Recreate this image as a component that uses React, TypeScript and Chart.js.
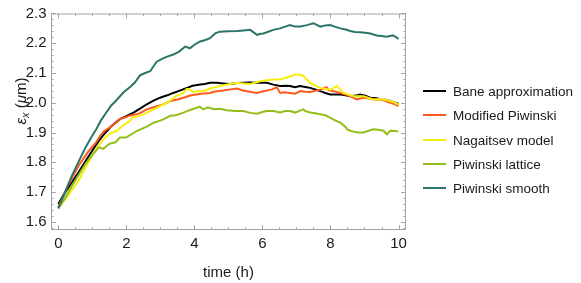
import React, { useEffect, useRef } from "react";
import { Chart, registerables } from "chart.js";

Chart.register(...registerables);

// ---- data (time in h, emittance in µm) ----
const seriesNames = [
  "Bane approximation",
  "Modified Piwinski",
  "Nagaitsev model",
  "Piwinski lattice",
  "Piwinski smooth",
];
const seriesColors = ["#000000", "#ff5a1e", "#f7ee10", "#95bd1a", "#2b7568"];

const xTicks = [0, 2, 4, 6, 8, 10];
const yTicks = [1.6, 1.7, 1.8, 1.9, 2.0, 2.1, 2.2, 2.3];

const bane = [
  [0, 1.66], [0.15, 1.69], [0.31, 1.717], [0.6, 1.767], [0.9, 1.822], [1.06, 1.85], [1.19, 1.872],
  [1.35, 1.895], [1.55, 1.92], [1.81, 1.945], [2.0, 1.955], [2.21, 1.967], [2.4, 1.98], [2.6, 1.995],
  [2.8, 2.007], [2.99, 2.017], [3.2, 2.025], [3.38, 2.033], [3.55, 2.04], [3.78, 2.05], [3.95, 2.057],
  [4.17, 2.061], [4.3, 2.063], [4.46, 2.067], [4.66, 2.067], [4.85, 2.065], [5.05, 2.063], [5.25, 2.066],
  [5.44, 2.067], [5.64, 2.068], [5.84, 2.067], [6.0, 2.068], [6.13, 2.067], [6.32, 2.061], [6.52, 2.056],
  [6.7, 2.057], [6.81, 2.056], [6.96, 2.052], [7.1, 2.056], [7.26, 2.053], [7.4, 2.05], [7.55, 2.045],
  [7.7, 2.039], [7.85, 2.033], [7.99, 2.028], [8.19, 2.028], [8.29, 2.028], [8.45, 2.025], [8.58, 2.022],
  [8.75, 2.024], [8.87, 2.028], [9.02, 2.024], [9.17, 2.017], [9.36, 2.015], [9.46, 2.011], [9.6, 2.01],
  [9.76, 2.006], [9.9, 2.0], [10, 1.997],
];

const modified = [
  [0, 1.65], [0.31, 1.728], [0.6, 1.789], [0.9, 1.839], [1.1, 1.865], [1.23, 1.889], [1.35, 1.905],
  [1.52, 1.917], [1.72, 1.935], [1.81, 1.945], [2.0, 1.952], [2.07, 1.956], [2.3, 1.961], [2.4, 1.965],
  [2.6, 1.978], [2.8, 1.985], [3.1, 1.995], [3.29, 2.006], [3.5, 2.011], [3.68, 2.017], [3.9, 2.025],
  [4.07, 2.028], [4.2, 2.03], [4.46, 2.033], [4.6, 2.038], [4.85, 2.041], [5.05, 2.045], [5.25, 2.048],
  [5.4, 2.042], [5.54, 2.039], [5.7, 2.035], [5.84, 2.033], [6.0, 2.038], [6.13, 2.041], [6.28, 2.045],
  [6.42, 2.052], [6.52, 2.033], [6.65, 2.035], [6.81, 2.033], [6.96, 2.03], [7.11, 2.039], [7.26, 2.037],
  [7.4, 2.036], [7.55, 2.04], [7.7, 2.044], [7.89, 2.052], [7.95, 2.042], [8.09, 2.039], [8.29, 2.033],
  [8.45, 2.028], [8.58, 2.022], [8.77, 2.011], [8.97, 2.017], [9.1, 2.015], [9.26, 2.011], [9.4, 2.012],
  [9.56, 2.008], [9.76, 2.0], [9.9, 1.995], [10, 1.989],
];

const nagaitsev = [
  [0, 1.645], [0.3, 1.69], [0.6, 1.739], [0.99, 1.822], [1.15, 1.85], [1.29, 1.872], [1.45, 1.89],
  [1.58, 1.9], [1.72, 1.905], [1.87, 1.922], [2.11, 1.939], [2.17, 1.95], [2.35, 1.955], [2.5, 1.961],
  [2.7, 1.972], [2.89, 1.983], [3.1, 1.995], [3.28, 2.006], [3.45, 2.022], [3.58, 2.028], [3.68, 2.033],
  [3.78, 2.047], [3.88, 2.044], [3.97, 2.036], [4.07, 2.039], [4.26, 2.039], [4.46, 2.048], [4.6, 2.052],
  [4.85, 2.059], [5.05, 2.063], [5.25, 2.067], [5.44, 2.065], [5.64, 2.063], [5.8, 2.068], [5.93, 2.072],
  [6.13, 2.076], [6.32, 2.078], [6.52, 2.078], [6.67, 2.083], [6.81, 2.089], [6.96, 2.094], [7.11, 2.094],
  [7.2, 2.09], [7.26, 2.083], [7.4, 2.067], [7.55, 2.058], [7.7, 2.05], [7.85, 2.046], [7.99, 2.044],
  [8.1, 2.05], [8.19, 2.056], [8.28, 2.045], [8.38, 2.033], [8.55, 2.027], [8.68, 2.022], [8.85, 2.022],
  [8.97, 2.022], [9.1, 2.017], [9.26, 2.011], [9.4, 2.012], [9.56, 2.011], [9.76, 2.006], [9.9, 2.0],
  [10, 1.994],
];

const lattice = [
  [0, 1.645], [0.2, 1.68], [0.4, 1.72], [0.6, 1.758], [0.8, 1.795], [1.0, 1.825], [1.19, 1.85],
  [1.32, 1.845], [1.5, 1.862], [1.68, 1.867], [1.81, 1.883], [1.98, 1.883], [2.17, 1.895], [2.3, 1.905],
  [2.45, 1.912], [2.6, 1.92], [2.8, 1.933], [3.0, 1.94], [3.1, 1.945], [3.29, 1.956], [3.45, 1.958],
  [3.68, 1.967], [3.85, 1.975], [4.07, 1.983], [4.15, 1.987], [4.26, 1.978], [4.4, 1.985], [4.57, 1.978],
  [4.75, 1.98], [4.95, 1.975], [5.2, 1.972], [5.44, 1.972], [5.64, 1.966], [5.84, 1.963], [5.97, 1.968],
  [6.13, 1.972], [6.32, 1.972], [6.52, 1.967], [6.67, 1.972], [6.81, 1.972], [6.96, 1.967], [7.2, 1.978],
  [7.26, 1.972], [7.4, 1.967], [7.55, 1.965], [7.7, 1.961], [7.85, 1.958], [7.99, 1.95], [8.15, 1.94],
  [8.29, 1.933], [8.45, 1.918], [8.48, 1.911], [8.6, 1.905], [8.68, 1.903], [8.8, 1.9], [8.97, 1.9],
  [9.1, 1.905], [9.26, 1.911], [9.4, 1.909], [9.56, 1.906], [9.66, 1.894], [9.76, 1.906], [9.9, 1.905],
  [10, 1.903],
];

const smooth = [
  [0, 1.645], [0.2, 1.7], [0.4, 1.755], [0.6, 1.803], [0.8, 1.85], [1.0, 1.89], [1.12, 1.912],
  [1.25, 1.94], [1.38, 1.962], [1.55, 1.99], [1.68, 2.005], [1.92, 2.035], [2.1, 2.052], [2.25, 2.068],
  [2.4, 2.092], [2.55, 2.1], [2.7, 2.106], [2.89, 2.138], [3.09, 2.15], [3.2, 2.155], [3.38, 2.162],
  [3.55, 2.172], [3.73, 2.189], [3.87, 2.183], [4.0, 2.195], [4.17, 2.206], [4.3, 2.21], [4.46, 2.217],
  [4.61, 2.233], [4.75, 2.239], [5.0, 2.24], [5.25, 2.241], [5.45, 2.243], [5.64, 2.245], [5.84, 2.228],
  [5.95, 2.232], [6.03, 2.233], [6.15, 2.238], [6.32, 2.245], [6.52, 2.25], [6.67, 2.256], [6.81, 2.261],
  [6.96, 2.256], [7.11, 2.256], [7.31, 2.261], [7.5, 2.267], [7.6, 2.262], [7.7, 2.256], [7.85, 2.26],
  [7.99, 2.261], [8.15, 2.255], [8.29, 2.25], [8.45, 2.246], [8.58, 2.241], [8.72, 2.238], [8.87, 2.237],
  [9.02, 2.235], [9.17, 2.233], [9.36, 2.226], [9.5, 2.224], [9.66, 2.222], [9.78, 2.225], [9.85, 2.226],
  [10, 2.215],
];

const allSeries = [bane, modified, nagaitsev, lattice, smooth];

const W = 581;
const H = 283;
const FRAME = "#a3a3a3";
const TEXT = "#1a1a1a";
const FONT = "'Liberation Sans', Arial, Helvetica, sans-serif";

const framePlugin = {
  id: "frameTicks",
  afterDraw(chart: any) {
    const { ctx, chartArea: a, scales } = chart;
    const x = scales.x;
    const y = scales.y;
    ctx.save();
    ctx.strokeStyle = FRAME;
    ctx.lineWidth = 1;
    ctx.strokeRect(a.left + 0.5, a.top + 0.5, a.right - a.left - 1, a.bottom - a.top - 1);
    ctx.beginPath();
    for (let k = 0; k <= 20; k++) {
      const t = k * 0.5;
      const px = Math.round(x.getPixelForValue(t)) + 0.5;
      const len = k % 4 === 0 ? 5 : 2.5;
      ctx.moveTo(px, a.bottom);
      ctx.lineTo(px, a.bottom - len);
      ctx.moveTo(px, a.top);
      ctx.lineTo(px, a.top + len);
    }
    for (let k = 79; k <= 115; k++) {
      const v = k * 0.02;
      const py = Math.round(y.getPixelForValue(v)) + 0.5;
      if (py < a.top || py > a.bottom) continue;
      const len = k % 5 === 0 ? 5 : 2.5;
      ctx.moveTo(a.left, py);
      ctx.lineTo(a.left + len, py);
      ctx.moveTo(a.right, py);
      ctx.lineTo(a.right - len, py);
    }
    ctx.stroke();

    // x axis title
    ctx.fillStyle = TEXT;
    ctx.font = `15px ${FONT}`;
    ctx.textAlign = "center";
    ctx.textBaseline = "middle";
    ctx.fillText("time (h)", (a.left + a.right) / 2, 273);

    // y axis title: ε_x (μm)
    ctx.translate(21, 101);
    ctx.rotate(-Math.PI / 2);
    ctx.textAlign = "left";
    ctx.textBaseline = "alphabetic";
    const parts = [
      { s: "ε", f: `italic 15px ${FONT}`, dy: 0 },
      { s: "x", f: `italic 11px ${FONT}`, dy: 3 },
      { s: " (", f: `15px ${FONT}`, dy: 0 },
      { s: "μ", f: `italic 15px ${FONT}`, dy: 0 },
      { s: "m)", f: `15px ${FONT}`, dy: 0 },
    ];
    let total = 0;
    const widths = parts.map((p) => {
      ctx.font = p.f;
      const w = ctx.measureText(p.s).width;
      total += w;
      return w;
    });
    let cx = -total / 2;
    parts.forEach((p, i) => {
      ctx.font = p.f;
      ctx.fillText(p.s, cx, 5 + p.dy);
      cx += widths[i];
    });
    ctx.restore();
  },
};

export default function App() {
  const ref = useRef<HTMLCanvasElement | null>(null);

  useEffect(() => {
    if (!ref.current) return;
    const chart = new Chart(ref.current, {
      type: "line",
      data: {
        datasets: allSeries.map((s, i) => ({
          label: seriesNames[i],
          data: s.map(([t, v]) => ({ x: t, y: v })),
          borderColor: seriesColors[i],
          backgroundColor: seriesColors[i],
          borderWidth: 2,
          pointRadius: 0,
          tension: 0,
          fill: false,
          order: 5 - i,
        })),
      },
      options: {
        responsive: false,
        animation: false,
        devicePixelRatio: 1,
        layout: { padding: { left: 0, top: 12, right: 175, bottom: 0 } },
        plugins: { legend: { display: false }, tooltip: { enabled: false } },
        scales: {
          x: {
            type: "linear",
            min: -0.215,
            max: 10.22,
            grid: { display: false, drawTicks: false },
            border: { display: false },
            afterBuildTicks: (s: any) => {
              s.ticks = xTicks.map((v) => ({ value: v }));
            },
            afterFit: (s: any) => {
              s.height = 53;
            },
            ticks: {
              padding: 5,
              color: TEXT,
              font: { family: FONT, size: 15 },
              maxRotation: 0,
              callback: (v: any) => String(v),
            },
          },
          y: {
            type: "linear",
            min: 1.5723,
            max: 2.3,
            grid: { display: false, drawTicks: false },
            border: { display: false },
            afterBuildTicks: (s: any) => {
              s.ticks = yTicks.map((v) => ({ value: v }));
            },
            afterFit: (s: any) => {
              s.width = 51;
            },
            ticks: {
              padding: 4.5,
              color: TEXT,
              font: { family: FONT, size: 15 },
              callback: (v: any) => Number(v).toFixed(1),
            },
          },
        },
      },
      plugins: [framePlugin],
    });
    return () => chart.destroy();
  }, []);

  const rowY = [91, 115, 140, 164, 188];

  return (
    <div style={{ position: "absolute", left: 0, top: 0, width: W, height: H, background: "#fff" }}>
      <canvas ref={ref} width={W} height={H} style={{ display: "block", width: W, height: H }} />
      {seriesNames.map((name, i) => (
        <div
          key={name}
          style={{
            position: "absolute",
            left: 423,
            top: rowY[i] - 10,
            height: 20,
            display: "flex",
            alignItems: "center",
            whiteSpace: "nowrap",
          }}
        >
          <span style={{ display: "inline-block", width: 23, height: 2, background: seriesColors[i] }} />
          <span style={{ marginLeft: 7, fontFamily: FONT, fontSize: 13.5, color: TEXT }}>{name}</span>
        </div>
      ))}
    </div>
  );
}
